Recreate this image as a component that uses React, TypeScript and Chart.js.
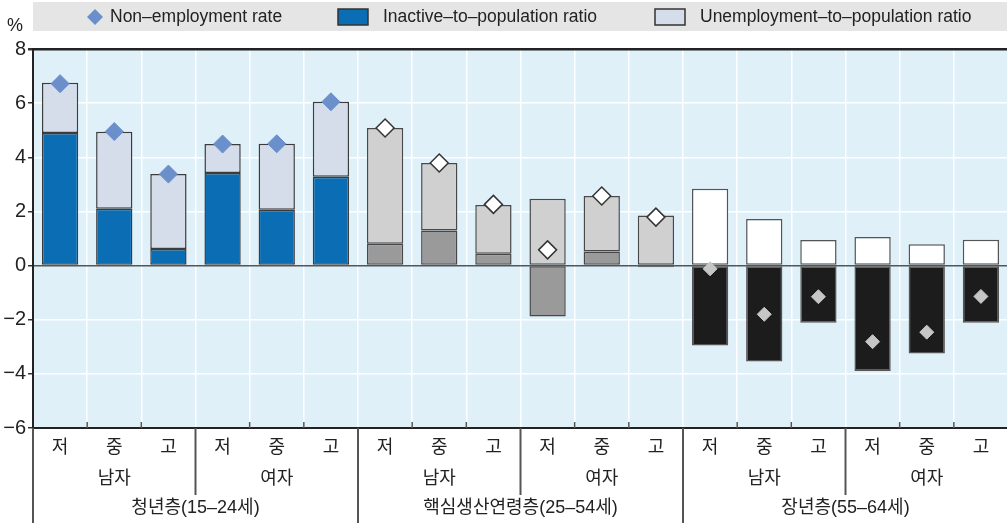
import React, { useEffect, useRef } from 'react';
import { Chart, registerables } from 'chart.js';

Chart.register(...registerables);

const educationLabels = ['저', '중', '고', '저', '중', '고', '저', '중', '고', '저', '중', '고', '저', '중', '고', '저', '중', '고'];
const genderLabels = ['남자', '여자', '남자', '여자', '남자', '여자'];
const ageLabels = ['청년층(15–24세)', '핵심생산연령층(25–54세)', '장년층(55–64세)'];
const inactiveRatio = [4.9, 2.1, 0.61, 3.42, 2.06, 3.28, 0.81, 1.3, 0.44, -1.88, 0.52, -0.06, -2.95, -3.54, -2.11, -3.89, -3.25, -2.11];
const unemploymentRatio = [1.85, 2.84, 2.77, 1.07, 2.44, 2.77, 4.27, 2.49, 1.8, 2.47, 2.05, 1.85, 2.84, 1.72, 0.94, 1.06, 0.79, 0.95];
const nonEmploymentRate = [6.72, 4.95, 3.38, 4.49, 4.5, 6.05, 5.08, 3.79, 2.26, 0.58, 2.57, 1.79, -0.12, -1.8, -1.15, -2.81, -2.46, -1.14];
const yTicks = [8, 6, 4, 2, 0, -2, -4, -6];
const legendLabels = ['Non–employment rate', 'Inactive–to–population ratio', 'Unemployment–to–population ratio'];

const inactiveColors = ['#0b6db3', '#9a9a9a', '#1c1c1c'];
const unempColors = ['#d5dcea', '#d0d0d0', '#ffffff'];
const diamondFill = ['#6b8fca', '#ffffff', '#c6c6c6'];
const diamondBorder = ['#6b8fca', '#333333', '#c6c6c6'];
const diamondRadius = [9, 9, 7];
const diamondBorderW = [1, 1.5, 1];
const barBorder = ['#3c3c3c', '#484848', '#555555'];

const FONT = "'Liberation Sans', 'Noto Sans CJK KR', Arial, sans-serif";
const grp = (i: number) => Math.floor(i / 6);

const decor = {
  id: 'decor',
  beforeDraw(chart: any) {
    const { ctx, chartArea: a } = chart;
    ctx.save();
    ctx.fillStyle = '#dff0f9';
    ctx.fillRect(a.left, a.top, a.right - a.left, a.bottom - a.top);
    ctx.restore();
  },
  afterDraw(chart: any) {
    const { ctx, chartArea: a, width: W, height: H } = chart;
    const n = educationLabels.length;
    const w = (a.right - a.left) / n;
    ctx.save();
    // legend band
    ctx.fillStyle = '#e5e5e5';
    ctx.fillRect(a.left, 2, W - a.left, 29);
    ctx.font = `17.5px ${FONT}`;
    ctx.fillStyle = '#222';
    ctx.textBaseline = 'middle';
    ctx.textAlign = 'left';
    // diamond
    ctx.beginPath();
    ctx.moveTo(95, 9);
    ctx.lineTo(103, 17);
    ctx.lineTo(95, 25);
    ctx.lineTo(87, 17);
    ctx.closePath();
    ctx.fillStyle = diamondFill[0];
    ctx.fill();
    ctx.fillStyle = '#222';
    ctx.fillText(legendLabels[0], 110, 17);
    ctx.fillStyle = inactiveColors[0];
    ctx.fillRect(338, 9, 30, 16);
    ctx.strokeStyle = '#333';
    ctx.lineWidth = 1.5;
    ctx.strokeRect(338, 9, 30, 16);
    ctx.fillStyle = '#222';
    ctx.fillText(legendLabels[1], 383, 17);
    ctx.fillStyle = unempColors[0];
    ctx.fillRect(655, 9, 30, 16);
    ctx.strokeRect(655, 9, 30, 16);
    ctx.fillStyle = '#222';
    ctx.fillText(legendLabels[2], 700, 17);
    // percent
    ctx.font = `18px ${FONT}`;
    ctx.textAlign = 'center';
    ctx.fillText('%', 15, 26);

    // separators and ticks
    ctx.strokeStyle = '#555';
    for (let k = 0; k <= n; k++) {
      const x = a.left + k * w;
      ctx.beginPath();
      if (k % 6 === 0) {
        ctx.lineWidth = 2;
        ctx.moveTo(x, a.bottom);
        ctx.lineTo(x, H);
      } else if (k % 3 === 0) {
        ctx.lineWidth = 2;
        ctx.moveTo(x, a.bottom);
        ctx.lineTo(x, 495);
      } else {
        ctx.lineWidth = 1.5;
        ctx.moveTo(x, a.bottom - 6);
        ctx.lineTo(x, a.bottom);
      }
      ctx.stroke();
    }
    ctx.font = `18px ${FONT}`;
    ctx.fillStyle = '#222';
    ctx.textAlign = 'center';
    genderLabels.forEach((g, j) => {
      ctx.fillText(g, a.left + (3 * j + 1.5) * w, 479);
    });
    ageLabels.forEach((g, j) => {
      ctx.fillText(g, a.left + (6 * j + 3) * w, 508);
    });
    ctx.restore();
  },
};

export default function App() {
  const ref = useRef<HTMLCanvasElement>(null);
  useEffect(() => {
    if (!ref.current) return;
    Chart.defaults.font.family = FONT;
    const chart = new Chart(ref.current, {
      type: 'bar',
      data: {
        labels: educationLabels,
        datasets: [
          {
            type: 'line',
            label: legendLabels[0],
            data: nonEmploymentRate,
            showLine: false,
            pointStyle: 'rectRot',
            pointRadius: nonEmploymentRate.map((_, i) => diamondRadius[grp(i)]),
            pointBackgroundColor: nonEmploymentRate.map((_, i) => diamondFill[grp(i)]),
            pointBorderColor: nonEmploymentRate.map((_, i) => diamondBorder[grp(i)]),
            pointBorderWidth: nonEmploymentRate.map((_, i) => diamondBorderW[grp(i)]),
            stack: 'diamond',
            order: 0,
          } as any,
          {
            label: legendLabels[1],
            data: inactiveRatio,
            backgroundColor: inactiveRatio.map((_, i) => inactiveColors[grp(i)]),
            borderColor: inactiveRatio.map((_, i) => barBorder[grp(i)]),
            borderWidth: 1.5,
            borderSkipped: false,
            stack: 'bars',
            order: 1,
            barPercentage: 0.67,
            categoryPercentage: 1,
          },
          {
            label: legendLabels[2],
            data: unemploymentRatio,
            backgroundColor: unemploymentRatio.map((_, i) => unempColors[grp(i)]),
            borderColor: unemploymentRatio.map((_, i) => barBorder[grp(i)]),
            borderWidth: 1.5,
            borderSkipped: false,
            stack: 'bars',
            order: 1,
            barPercentage: 0.67,
            categoryPercentage: 1,
          },
        ],
      },
      options: {
        responsive: false,
        animation: false,
        layout: { padding: { top: 49, left: 0, right: 0, bottom: 0 } },
        plugins: { legend: { display: false }, tooltip: { enabled: false } },
        scales: {
          x: {
            stacked: true,
            grid: { offset: true, color: 'rgba(255,255,255,0.9)', lineWidth: 1.5, drawTicks: false },
            border: { display: true, color: '#222', width: 2 },
            ticks: { font: { size: 18 }, color: '#222', padding: 9, maxRotation: 0 },
            afterFit: (s: any) => {
              s.height = 95;
            },
          },
          y: {
            stacked: true,
            min: -6,
            max: 8,
            afterBuildTicks: (s: any) => {
              s.ticks = yTicks.map((v) => ({ value: v }));
            },
            ticks: {
              font: { size: 20 },
              color: '#222',
              padding: 2,
              callback: (v: any) => String(v).replace('-', '−'),
            },
            grid: {
              color: (c: any) => (c.tick.value === 0 ? '#555' : c.tick.value === 8 ? '#222' : '#ffffff'),
              lineWidth: (c: any) => (c.tick.value === 8 ? 2.5 : 1.5),
              tickColor: '#333',
              tickLength: 5,
            },
            border: { color: '#222', width: 2 },
            afterFit: (s: any) => {
              s.width = 33;
            },
          },
        },
      },
      plugins: [decor],
    } as any);
    return () => chart.destroy();
  }, []);
  return (
    <div style={{ position: 'fixed', left: 0, top: 0, width: 1007, height: 523, overflow: 'hidden', background: '#fff' }}>
      <canvas ref={ref} width={1018} height={523} style={{ display: 'block', width: 1018, height: 523 }} />
    </div>
  );
}
